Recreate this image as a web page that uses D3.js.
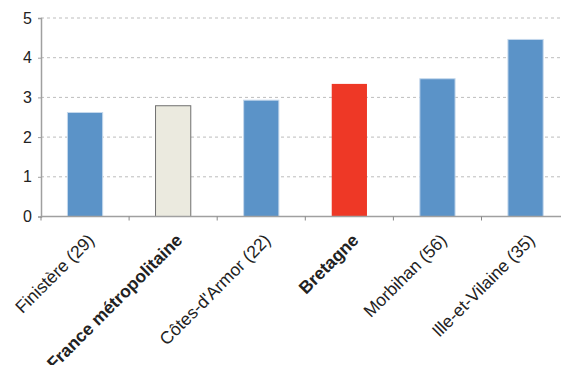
<!DOCTYPE html>
<html><head><meta charset="utf-8">
<script src="https://cdn.jsdelivr.net/npm/d3@7"></script>
<style>body{margin:0;background:#fff}svg{display:block}</style>
</head><body><div id="chart"></div>
<script>
const categories = ["Finistère (29)", "France métropolitaine", "Côtes-d'Armor (22)", "Bretagne", "Morbihan (56)", "Ille-et-Vilaine (35)"];
const values = [2.62, 2.79, 2.93, 3.34, 3.47, 4.46];
const kinds = ["dept", "france", "dept", "region", "dept", "dept"];
const yTicks = [0, 1, 2, 3, 4, 5];

const W = 561, H = 365;
const m = {left: 41, top: 18, bottom: 148.5};
const plotRight = 569.6;
const svg = d3.select("#chart").append("svg").attr("width", W).attr("height", H);
const x = d3.scaleBand().domain(categories).range([m.left, plotRight]).paddingInner(0.6).paddingOuter(0.3);
const y = d3.scaleLinear().domain([0, 5]).range([H - m.bottom, m.top]);

const fills = {dept: "#5b93c8", france: "#ebeadf", region: "#ee3826"};
const strokes = {dept: "#c5d8ec", france: "#707070", region: "none"};

// grid
svg.append("g").selectAll("line").data(yTicks.filter(d => d > 0)).join("line")
  .attr("x1", m.left).attr("x2", W).attr("y1", d => y(d)).attr("y2", d => y(d))
  .attr("stroke", "#bdbdbd").attr("stroke-width", 1).attr("stroke-dasharray", "3,3");

// bars
svg.append("g").selectAll("rect").data(categories).join("rect")
  .attr("x", d => x(d)).attr("width", x.bandwidth())
  .attr("y", (d, i) => y(values[i])).attr("height", (d, i) => y(0) - y(values[i]))
  .attr("fill", (d, i) => fills[kinds[i]])
  .attr("stroke", (d, i) => strokes[kinds[i]]).attr("stroke-width", 1);

// y axis
const ya = svg.append("g").attr("transform", `translate(${m.left},0)`)
  .call(d3.axisLeft(y).tickValues(yTicks).tickSize(3).tickFormat(d3.format("d")));
ya.select(".domain").attr("stroke", "#a0a0a0").attr("stroke-width", 1.5);
ya.selectAll(".tick line").attr("stroke", "#a0a0a0");
ya.selectAll(".tick text").attr("font-family", "Liberation Sans, Arial, sans-serif").attr("font-size", 16).attr("fill", "#222").attr("x", -9);

// x axis
const bounds = d3.range(categories.length + 1).map(i => m.left + i * x.step());
svg.append("line").attr("x1", m.left).attr("x2", W).attr("y1", y(0)).attr("y2", y(0))
  .attr("stroke", "#a0a0a0").attr("stroke-width", 1.5);
svg.append("g").selectAll("line").data(bounds).join("line")
  .attr("x1", d => d).attr("x2", d => d).attr("y1", y(0)).attr("y2", y(0) + 4)
  .attr("stroke", "#888");

// labels
svg.append("g").selectAll("text").data(categories).join("text")
  .attr("transform", d => `translate(${x(d) + x.bandwidth() / 2 + 6},${y(0) + 20.5}) rotate(-45)`)
  .attr("text-anchor", "end").attr("dy", "0.35em")
  .attr("font-family", "Liberation Sans, Arial, sans-serif").attr("font-size", 17.5)
  .attr("font-weight", (d, i) => kinds[i] === "dept" ? "normal" : "bold")
  .attr("fill", "#222").text(d => d);
</script></body></html>
